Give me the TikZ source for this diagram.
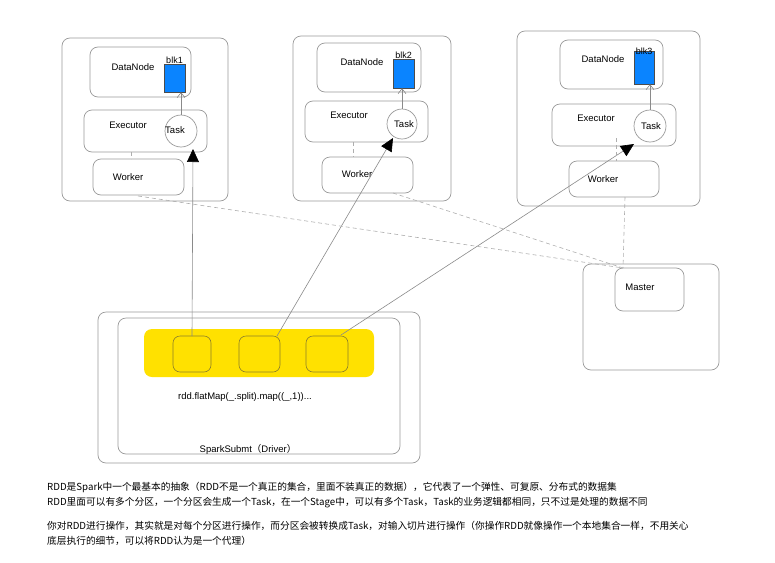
\documentclass[tikz,border=0pt]{standalone}
\usepackage{fontspec}
\setmainfont{Liberation Sans}
\newfontfamily\cjk{Noto Sans CJK SC}
\usetikzlibrary{arrows.meta}
\definecolor{boxgray}{HTML}{9A9A9A}
\definecolor{linegray}{HTML}{8A8A8A}
\definecolor{blkblue}{HTML}{0A84FF}
\definecolor{ryellow}{HTML}{FFE100}
\definecolor{pborder}{HTML}{8C7F2A}
\tikzset{
  box/.style={draw=boxgray,line width=0.7pt,rounded corners=8pt,inner sep=0pt,fill=white},
  blk/.style={draw=black!70,line width=0.5pt,fill=blkblue,inner sep=0pt},
  task/.style={draw=boxgray,line width=0.7pt,circle,fill=white,inner sep=0pt},
  lbl/.style={font=\fontsize{9.5}{11}\selectfont,inner sep=0pt},
  small/.style={font=\fontsize{9}{10}\selectfont,inner sep=0pt},
  conn/.style={draw=linegray,line width=0.6pt,-{Triangle[length=13pt,width=12pt,black]}},
  rd/.style={draw=linegray,line width=0.6pt,-{Straight Barb[length=5pt,width=8pt]}},
  dsh/.style={draw=boxgray!80,line width=0.6pt,dash pattern=on 4pt off 3pt},
  part/.style={draw=pborder,line width=0.6pt,rounded corners=7pt,inner sep=0pt},
  txt/.style={font=\cjk\fontsize{9.7}{11}\selectfont,inner sep=0pt,anchor=base west}
}
\begin{document}
\begin{tikzpicture}[x=1pt,y=-1pt]
\useasboundingbox (0,0) rectangle (775,562);
% ---------- Group 1 ----------
\node[box,minimum width=166pt,minimum height=163pt] (g1) at (145,119.5) {};
\node[box,minimum width=101pt,minimum height=50pt] (d1) at (140.5,72) {};
\node[lbl] (d1t) at (133,67) {DataNode};
\node[blk,minimum width=21pt,minimum height=28pt] (b1) at (174.5,78) {};
\node[small,anchor=south] (b1t) at (b1.north) {blk1};
\node[box,minimum width=123pt,minimum height=42pt] (e1) at (145.5,131) {};
\node[lbl] (e1t) at (128,125) {Executor};
\node[task,minimum size=32pt] (t1) at (181,131) {};
\node[lbl] (t1t) at (175,130) {Task};
\node[box,minimum width=91pt,minimum height=36pt] (w1) at (138.5,177) {};
\node[lbl] (w1t) at (128,177) {Worker};
% ---------- Group 2 ----------
\node[box,minimum width=158pt,minimum height=165pt] (g2) at (372,118.5) {};
\node[box,minimum width=104pt,minimum height=49pt] (d2) at (369,67.5) {};
\node[lbl] (d2t) at (362,62) {DataNode};
\node[blk,minimum width=21pt,minimum height=29pt] (b2) at (403.5,73.5) {};
\node[small,anchor=south] (b2t) at (b2.north) {blk2};
\node[box,minimum width=123pt,minimum height=41pt] (e2) at (366.5,121.5) {};
\node[lbl] (e2t) at (349,115) {Executor};
\node[task,minimum size=30pt] (t2) at (402,124) {};
\node[lbl] (t2t) at (404,124) {Task};
\node[box,minimum width=91pt,minimum height=36pt] (w2) at (367.5,175) {};
\node[lbl] (w2t) at (357,174) {Worker};
% ---------- Group 3 ----------
\node[box,minimum width=183pt,minimum height=175pt] (g3) at (608.5,118.5) {};
\node[box,minimum width=103pt,minimum height=49pt] (d3) at (611.5,64.5) {};
\node[lbl] (d3t) at (603,59) {DataNode};
\node[blk,minimum width=20pt,minimum height=33pt] (b3) at (644,67.5) {};
\node[small,anchor=south] (b3t) at ([yshift=-4pt]b3.north) {blk3};
\node[box,minimum width=124pt,minimum height=42pt] (e3) at (614,125) {};
\node[lbl] (e3t) at (596,118) {Executor};
\node[task,minimum size=32pt] (t3) at (650,126) {};
\node[lbl] (t3t) at (651,126) {Task};
\node[box,minimum width=90pt,minimum height=36pt] (w3) at (614,179) {};
\node[lbl] (w3t) at (603,179) {Worker};
% ---------- Master ----------
\node[box,minimum width=136pt,minimum height=106pt] (mo) at (651,317) {};
\node[box,minimum width=69pt,minimum height=43pt] (m) at (649.5,289.5) {};
\node[lbl] (mt) at (640,287) {Master};
% ---------- Driver ----------
\node[box,minimum width=322pt,minimum height=151pt] (dro) at (259,387.5) {};
\node[box,minimum width=282pt,minimum height=136pt] (dri) at (259,386) {};
\node[fill=ryellow,rounded corners=8pt,minimum width=230pt,minimum height=48pt,inner sep=0pt] (ry) at (259,353) {};
\node[part,minimum width=38pt,minimum height=36pt] (p1) at (192,354) {};
\node[part,minimum width=41pt,minimum height=36pt] (p2) at (259.5,354) {};
\node[part,minimum width=42pt,minimum height=36pt] (p3) at (327,354) {};
\node[lbl] (code) at (245,397) {rdd.flatMap(\_.split).map((\_,1))...};
\node[lbl] (drv) at (248,449) {SparkSubmt{\cjk （}Driver{\cjk ）}};
% ---------- connectors ----------
\coordinate (a1) at (193,149);
\coordinate (a2) at (393,138);
\coordinate (a3) at (634,144);
\draw[conn] (192,336) -- (a1);
\draw[conn] (277,336) -- (a2);
\draw[conn] (341,335) -- (a3);
\draw[rd] (t1.north) -- (t1.north |- b1.south);
\draw[rd] (t2.north) -- (t2.north |- b2.south);
\draw[rd] (t3.north) -- (t3.north |- b3.south);
\draw[dsh] (131,152) -- (131,159);
\draw[dsh] (353,142) -- (353,157);
\draw[dsh] (616,138) -- (616,161);
\coordinate (mc) at (623,268);
\draw[dsh] (138,196) -- (mc);
\draw[dsh] (393,193) -- (mc);
\draw[dsh] (625,197) -- (mc);
% ---------- text ----------
\node[txt] (l1) at (47,490) {RDD是Spark中一个最基本的抽象（RDD不是一个真正的集合，里面不装真正的数据），它代表了一个弹性、可复原、分布式的数据集};
\node[txt] (l2) at (47,505) {RDD里面可以有多个分区，一个分区会生成一个Task，在一个Stage中，可以有多个Task，Task的业务逻辑都相同，只不过是处理的数据不同};
\node[txt] (l3) at (47,529) {你对RDD进行操作，其实就是对每个分区进行操作，而分区会被转换成Task，对输入切片进行操作（你操作RDD就像操作一个本地集合一样，不用关心};
\node[txt] (l4) at (47,544) {底层执行的细节，可以将RDD认为是一个代理）};
\end{tikzpicture}
\end{document}
